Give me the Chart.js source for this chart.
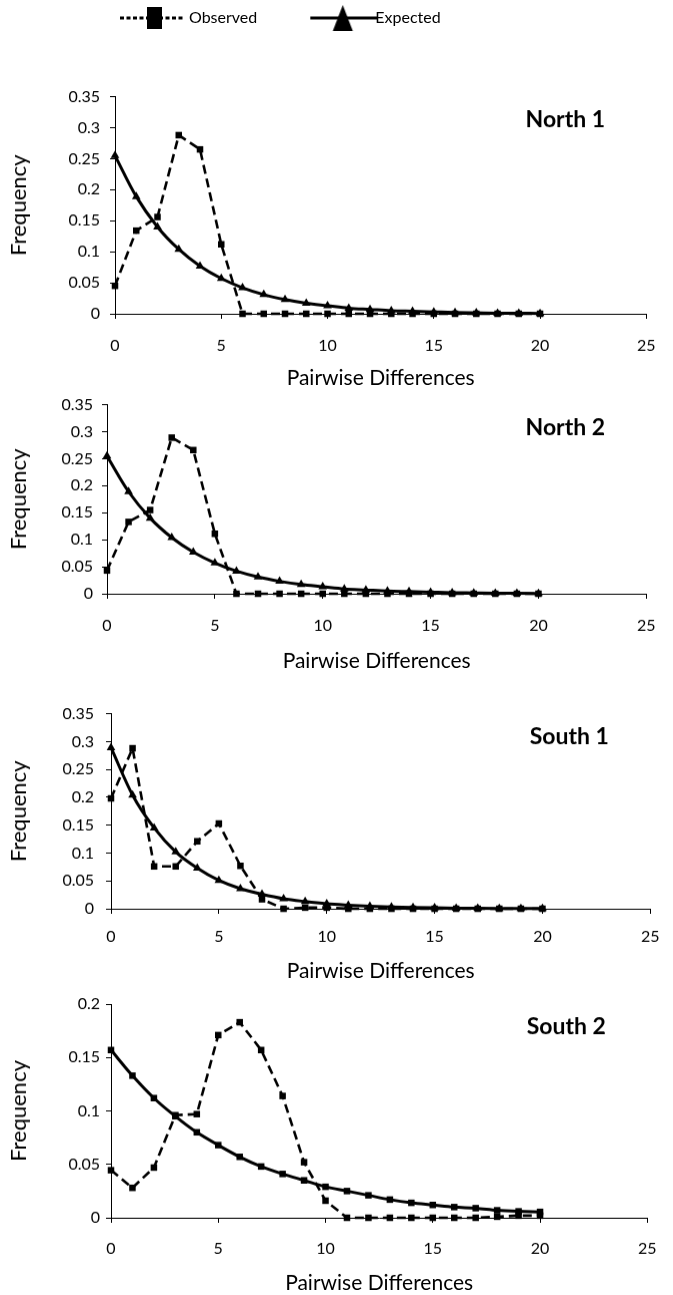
<!DOCTYPE html>
<html><head><meta charset="utf-8">
<script src="https://cdn.jsdelivr.net/npm/chart.js@4"></script>
<style>
html,body{margin:0;padding:0;background:#fff;width:673px;height:1295px;overflow:hidden;}
.box{position:absolute;left:0;}
</style></head><body>
<div class="box" id="legendBox" style="top:0;left:71px;width:560px;height:90px"><canvas id="legend"></canvas></div>
<div class="box" id="b1"><canvas id="c1"></canvas></div>
<div class="box" id="b2"><canvas id="c2"></canvas></div>
<div class="box" id="b3"><canvas id="c3"></canvas></div>
<div class="box" id="b4"><canvas id="c4"></canvas></div>
<script>
// ---- data ----
const pairwiseDifferences = [0,1,2,3,4,5,6,7,8,9,10,11,12,13,14,15,16,17,18,19,20];
const xTickLabels = ['0','5','10','15','20','25'];
const yTickLabels35 = ['0','0.05','0.1','0.15','0.2','0.25','0.3','0.35'];
const yTickLabels20 = ['0','0.05','0.1','0.15','0.2'];
const seriesNames = ['Observed','Expected'];
const panelNames = ['North 1','North 2','South 1','South 2'];

const north1Observed = [0.045,0.134,0.156,0.288,0.265,0.112,0,0,0,0,0,0,0,0,0,0,0,0,0,0,0];
const north1Expected = [0.255,0.189,0.140,0.104,0.077,0.057,0.042,0.031,0.023,0.017,0.013,0.009,0.007,0.005,0.004,0.003,0.002,0.0015,0.001,0.0008,0.0006];
const north2Observed = [0.043,0.133,0.155,0.289,0.266,0.111,0,0,0,0,0,0,0,0,0,0,0,0,0,0,0];
const north2Expected = [0.255,0.189,0.140,0.104,0.077,0.057,0.042,0.031,0.023,0.017,0.013,0.009,0.007,0.005,0.004,0.003,0.002,0.0015,0.001,0.0008,0.0006];
const south1Observed = [0.198,0.288,0.076,0.076,0.121,0.153,0.077,0.017,0,0.002,0.002,0,0,0,0,0,0,0,0,0,0];
const south1Expected = [0.289,0.204,0.145,0.102,0.073,0.051,0.036,0.026,0.018,0.013,0.009,0.0065,0.0045,0.0032,0.0023,0.0016,0.0011,0.0008,0.0006,0.0004,0.0003];
const south2Observed = [0.0445,0.028,0.047,0.096,0.097,0.171,0.183,0.157,0.114,0.052,0.016,0,0,0,0,0,0,0,0.001,0.002,0.002];
const south2Expected = [0.157,0.133,0.112,0.095,0.080,0.068,0.057,0.048,0.041,0.035,0.029,0.025,0.021,0.017,0.014,0.012,0.010,0.009,0.007,0.006,0.0055];

// ---- rendering ----
Chart.defaults.font.family = 'Lato';
Chart.defaults.color = '#000';

function makeObsIcon(){
  const c = document.createElement('canvas'); c.width = 130; c.height = 28;
  const g = c.getContext('2d');
  g.strokeStyle = '#000'; g.lineWidth = 3; g.setLineDash([4,2.5]);
  g.beginPath(); g.moveTo(54,14); g.lineTo(117,14); g.stroke();
  g.fillStyle = '#000'; g.fillRect(81,3,15,22);
  return c;
}
function makeExpIcon(){
  const c = document.createElement('canvas'); c.width = 130; c.height = 28;
  const g = c.getContext('2d');
  g.strokeStyle = '#000'; g.lineWidth = 3;
  g.beginPath(); g.moveTo(58,14); g.lineTo(125,14); g.stroke();
  g.fillStyle = '#000';
  g.beginPath(); g.moveTo(90.5,1); g.lineTo(100.5,27); g.lineTo(80.5,27); g.closePath(); g.fill();
  return c;
}

const panelLabelPlugin = {
  id: 'panelLabel',
  afterDatasetsDraw(chart, args, opts) {
    const {ctx, chartArea} = chart;
    ctx.save();
    ctx.font = 'bold 23px Lato';
    ctx.fillStyle = '#000';
    ctx.textAlign = 'center';
    ctx.textBaseline = 'middle';
    ctx.fillText(opts.text, chartArea.right - 81, chartArea.top + 23);
    ctx.restore();
  }
};

function makePanel(canvasId, boxId, obs, exp, yMax, yLabels, label, expStyle, g) {
  const el = document.getElementById(boxId);
  const padTop = 16;
  const pb = g.pb;
  const xTitleSize = 21;
  const xh = g.titleY - g.bottom + xTitleSize * 0.6 + pb;
  el.style.top = (g.top - padTop) + 'px';
  el.style.width = '673px';
  el.style.height = (padTop + g.bottom - g.top + xh) + 'px';
  const tickFont = {family:'Lato', size:16};
  new Chart(document.getElementById(canvasId), {
    type: 'line',
    data: {
      datasets: [
        {label: seriesNames[0], data: pairwiseDifferences.map((x,i)=>({x:x, y:obs[i]})),
         borderColor:'#000', backgroundColor:'#000', borderWidth:2.6, borderDash:[9,5],
         pointStyle:'rect', pointRadius:4.6, pointBorderWidth:0, tension:0, clip:false},
        {label: seriesNames[1], data: pairwiseDifferences.map((x,i)=>({x:x, y:exp[i]})),
         borderColor:'#000', backgroundColor:'#000', borderWidth:3,
         pointStyle: expStyle, pointRadius: expStyle==='rect'?4.6:5, pointBorderWidth:0,
         cubicInterpolationMode:'monotone', clip:false}
      ]
    },
    options: {
      responsive:true, maintainAspectRatio:false, animation:false, events:[],
      layout:{padding:{top:padTop, left:0, right:673-g.right, bottom:0}},
      scales: {
        x: {type:'linear', min:0, max:25,
            ticks:{stepSize:5, font:tickFont, color:'#000', maxRotation:0,
                   padding: g.labelY - g.bottom - 5 - 9.6,
                   callback:(v,i)=>xTickLabels[i]},
            grid:{display:true, drawOnChartArea:false, drawTicks:true, tickLength:5, color:'#000'},
            border:{display:true, color:'#000', width:1},
            title:{display:true, text:'Pairwise Differences', font:{family:'Lato', size:xTitleSize}, color:'#000', padding:{top:0, bottom:pb}},
            afterFit:(s)=>{ s.height = xh; }},
        y: {min:0, max:yMax,
            ticks:{stepSize:0.05, font:tickFont, color:'#000', padding: g.left - 5 - g.yEdge,
                   callback:(v,i)=>yLabels[i]},
            grid:{display:true, drawOnChartArea:false, drawTicks:true, tickLength:5, color:'#000'},
            border:{display:true, color:'#000', width:1},
            title:{display:true, text:'Frequency', font:{family:'Lato', size:22}, color:'#000', padding:{top:6, bottom:0}},
            afterFit:(s)=>{ s.width = g.left; }}
      },
      plugins: {legend:{display:false}, tooltip:{enabled:false}, panelLabel:{text:label}}
    },
    plugins: [panelLabelPlugin]
  });
}

function build(){
  const obsIcon = makeObsIcon(), expIcon = makeExpIcon();
  new Chart(document.getElementById('legend'), {
    type:'line',
    data:{datasets:[{label:seriesNames[0], data:[]},{label:seriesNames[1], data:[]}]},
    options:{responsive:true, maintainAspectRatio:false, animation:false, events:[],
      layout:{padding:{top:0,left:0,right:0,bottom:0}},
      scales:{x:{display:false}, y:{display:false}},
      plugins:{tooltip:{enabled:false},
        legend:{display:true, position:'top', align:'start',
          labels:{usePointStyle:true, pointStyleWidth:100, padding:10, font:{family:'Lato', size:16}, color:'#000',
            generateLabels:()=>[
              {text:seriesNames[0], pointStyle:obsIcon, fillStyle:'#000', strokeStyle:'#000', lineWidth:0, hidden:false, datasetIndex:0, fontColor:'#000'},
              {text:seriesNames[1], pointStyle:expIcon, fillStyle:'#000', strokeStyle:'#000', lineWidth:0, hidden:false, datasetIndex:1, fontColor:'#000'}
            ]}}}}
  });
  makePanel('c1','b1', north1Observed, north1Expected, 0.35, yTickLabels35, panelNames[0], 'triangle',
    {top:93, bottom:313, right:663, left:115, labelY:345, titleY:377, yEdge:100, pb:2});
  makePanel('c2','b2', north2Observed, north2Expected, 0.35, yTickLabels35, panelNames[1], 'triangle',
    {top:402, bottom:593, right:662, left:107, labelY:625, titleY:660, yEdge:93, pb:2});
  makePanel('c3','b3', south1Observed, south1Expected, 0.35, yTickLabels35, panelNames[2], 'triangle',
    {top:708, bottom:908, right:664, left:111, labelY:936, titleY:970, yEdge:94, pb:2});
  makePanel('c4','b4', south2Observed, south2Expected, 0.2, yTickLabels20, panelNames[3], 'rect',
    {top:1004, bottom:1217, right:664, left:111, labelY:1248, titleY:1282, yEdge:100, pb:0});
}
if (document.fonts && document.fonts.load) {
  Promise.all([document.fonts.load('16px Lato'), document.fonts.load('bold 23px Lato')]).then(build, build);
} else { build(); }
</script>
</body></html>
